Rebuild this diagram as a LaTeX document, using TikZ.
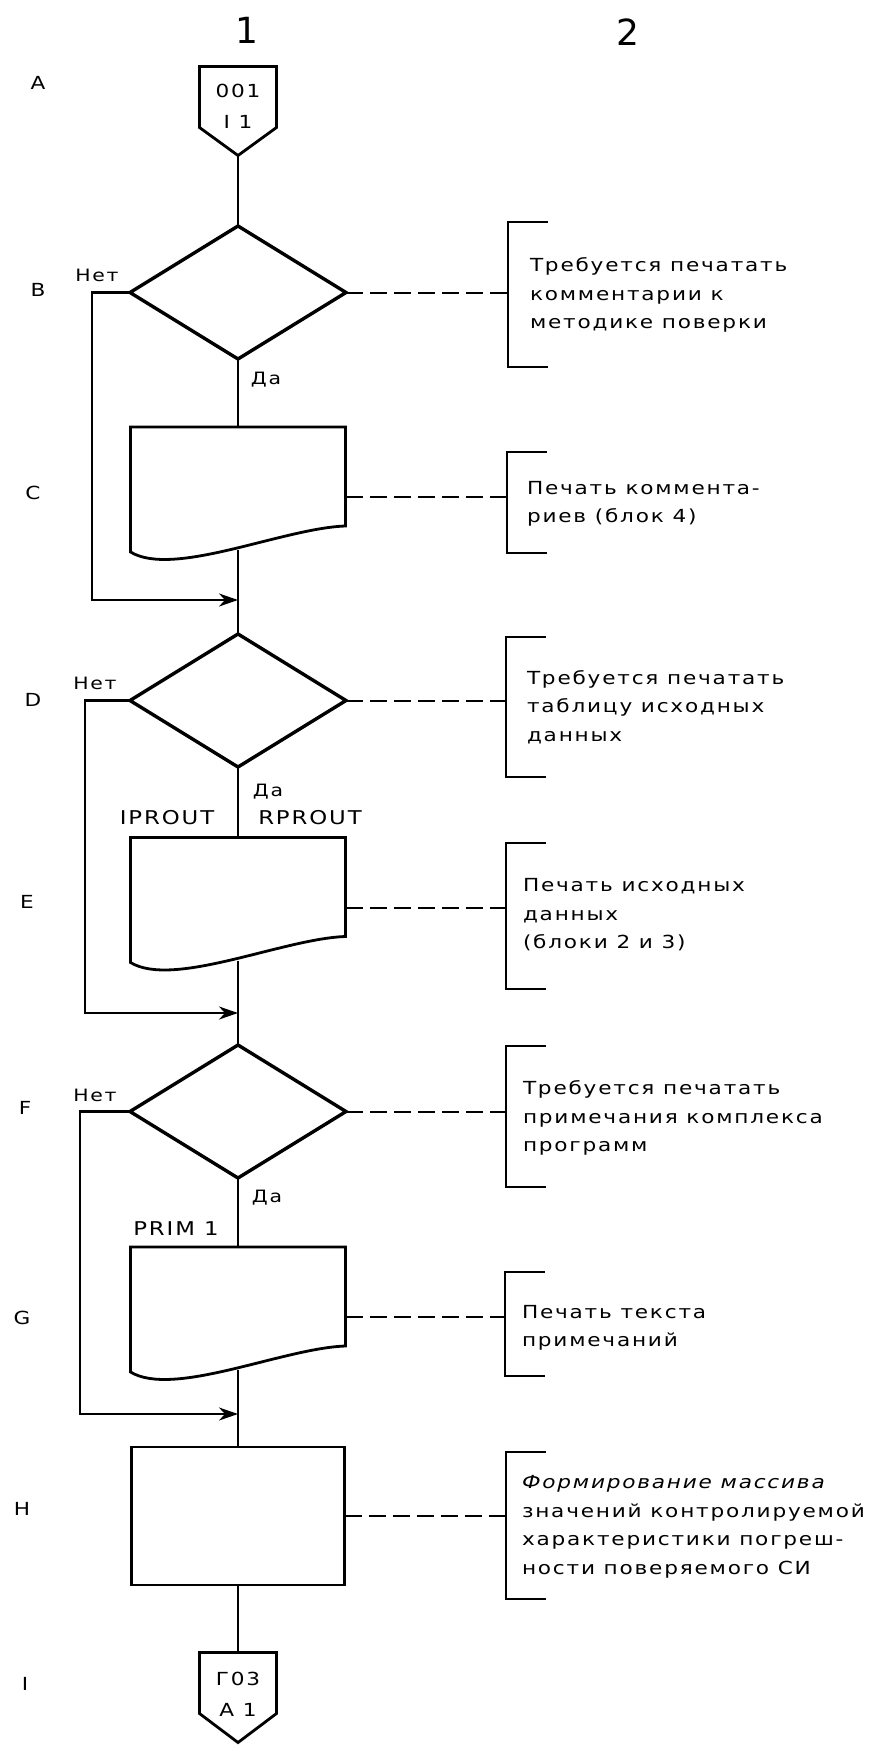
\documentclass[tikz,border=0pt]{standalone}
\usepackage{fontspec}
\setmainfont[FakeStretch=1.2,LetterSpace=10]{DejaVu Sans}
\newfontfamily\headfont{DejaVu Sans}
\usetikzlibrary{shapes.geometric,arrows.meta,calc}
\newcommand\mydoc[1]{\draw[docline] (#1.north west) -- (#1.north east) -- (#1.south east) .. controls ($(#1.south east)+(-62,2)$) and ($(#1.south west)+(43,52)$) .. ($(#1.south west)+(0,26)$) -- cycle;}
\newcommand\mycon[1]{\draw[docline] (#1.north west) -- (#1.north east) -- (#1.south east) -- (#1p) -- (#1.south west) -- cycle;}
\newcommand\mybr[4]{\coordinate (#1t) at (#2,#3); \coordinate (#1b) at (#2,#4); \draw[brline] ($(#1t)+(40,0)$) -- (#1t) -- (#1b) -- ++(40,0);}
\begin{document}
\begin{tikzpicture}[x=1pt,y=-1pt,
  every node/.style={inner sep=0pt, outer sep=0pt, font=\fontsize{18}{28.5}\selectfont},
  dia/.style={diamond, draw, line width=3.4pt, line join=miter, minimum width=216pt, minimum height=133pt, aspect=1.62},
  docbox/.style={rectangle, minimum width=215pt, minimum height=99pt},
  conbox/.style={rectangle, minimum width=77pt, minimum height=61pt},
  procbox/.style={rectangle, draw, line width=2.8pt, minimum width=213pt, minimum height=138pt},
  docline/.style={line width=2.8pt, line join=miter},
  flow/.style={line width=1.8pt},
  loopline/.style={line width=2.2pt, -{Stealth[length=19pt,width=13pt,inset=6pt]}},
  dashline/.style={line width=2pt, dash pattern=on 17pt off 7pt},
  brline/.style={line width=2.4pt},
  note/.style={anchor=west, align=left, font=\fontsize{18}{28.5}\selectfont},
  lab/.style={font=\fontsize{17}{20}\selectfont},
  caplab/.style={font=\fontsize{19}{22}\selectfont},
  rowlab/.style={font=\fontsize{18}{21}\selectfont},
  contxt/.style={align=center, font=\fontsize{18}{31}\selectfont},
  colhead/.style={font=\headfont\fontsize{36}{40}\selectfont}
]
\useasboundingbox (0,0) rectangle (879,1747);

% column headers
\node[colhead] (h1) at (247,30) {1};
\node[colhead] (h2) at (628,32) {2};

% row labels
\node[rowlab] (rA) at (38,83) {A};
\node[rowlab] (rB) at (38,290) {B};
\node[rowlab] (rC) at (33,493) {C};
\node[rowlab] (rD) at (33,700) {D};
\node[rowlab] (rE) at (27,902) {E};
\node[rowlab] (rF) at (25,1108) {F};
\node[rowlab] (rG) at (22,1318) {G};
\node[rowlab] (rH) at (22,1509) {H};
\node[rowlab] (rI) at (25,1684) {I};

% connector A
\node[conbox] (A) at (238,97) {};
\coordinate (Ap) at ($(A.south)+(0,28)$);
\mycon{A}
\node[contxt] (Atx) at (238,106) {001\\I 1};

% B
\node[dia] (B) at (238,292.5) {};
\draw[flow] (Ap) -- (B.north);
\node[lab] (netB) at (97,275) {Нет};

% C
\node[docbox] (C) at (238,476.5) {};
\mydoc{C}
\coordinate (Cb) at ($(C.south)+(0,24)$);
\coordinate (Cr) at ($(C.north east)!0.71!(C.south east)$);
\draw[flow] (B.south) -- (C.north);
\node[lab] (daB) at (266,380) {Да};

% D
\coordinate (jC) at (238,600);
\node[dia] (D) at (238,700.5) {};
\draw[flow] (Cb) -- (D.north);
\draw[loopline] (B.west) -- ++(-38,0) |- (jC);
\node[lab] (netD) at (95,683) {Нет};

% E
\node[docbox] (E) at (238,887) {};
\mydoc{E}
\coordinate (Eb) at ($(E.south)+(0,24)$);
\coordinate (Er) at ($(E.north east)!0.71!(E.south east)$);
\draw[flow] (D.south) -- (E.north);
\node[lab] (daD) at (268,792) {Да};
\node[caplab] (ipr) at (167,818) {IPROUT};
\node[caplab] (rpr) at (310,818) {RPROUT};

% F
\coordinate (jE) at (238,1013);
\node[dia] (F) at (238,1111.5) {};
\draw[flow] (Eb) -- (F.north);
\draw[loopline] (D.west) -- ++(-45,0) |- (jE);
\node[lab] (netF) at (95,1095) {Нет};

% G
\node[docbox] (G) at (238,1296.5) {};
\mydoc{G}
\coordinate (Gb) at ($(G.south)+(0,24)$);
\coordinate (Gr) at ($(G.north east)!0.71!(G.south east)$);
\draw[flow] (F.south) -- (G.north);
\node[lab] (daF) at (267,1198) {Да};
\node[caplab] (prim) at (176,1229) {PRIM 1};

% H
\coordinate (jG) at (238,1414);
\node[procbox] (H) at (238,1516) {};
\draw[flow] (Gb) -- (H.north);
\draw[loopline] (F.west) -- ++(-50,0) |- (jG);

% connector I
\node[conbox] (I) at (238,1683) {};
\coordinate (Ip) at ($(I.south)+(0,29)$);
\mycon{I}
\node[contxt] (Itx) at (238,1694) {Г03\\А 1};
\draw[flow] (H.south) -- (I.north);

% brackets and notes
\mybr{bB}{508}{222}{367}
\mybr{bC}{507}{452}{553}
\mybr{bD}{506}{637}{777}
\mybr{bE}{506}{843}{989}
\mybr{bF}{506}{1046}{1187}
\mybr{bG}{505}{1272}{1376}
\mybr{bH}{506}{1452}{1599}

\draw[dashline] (B.east) -- (B.east -| bBt);
\draw[dashline] (Cr) -- (Cr -| bCt);
\draw[dashline] (D.east) -- (D.east -| bDt);
\draw[dashline] (Er) -- (Er -| bEt);
\draw[dashline] (F.east) -- (F.east -| bFt);
\draw[dashline] (Gr) -- (Gr -| bGt);
\draw[dashline] (H.east) -- (H.east -| bHt);

\node[note] (tB) at (530,295) {Требуется печатать\\комментарии к\\методике поверки};
\node[note] (tC) at (527,504) {Печать коммента-\\риев (блок 4)};
\node[note] (tD) at (527,707) {Требуется печатать\\таблицу исходных\\данных};
\node[note] (tE) at (523,915) {Печать исходных\\данных\\(блоки 2 и 3)};
\node[note] (tF) at (523,1118) {Требуется печатать\\примечания комплекса\\программ};
\node[note] (tG) at (522,1328) {Печать текста\\примечаний};
\node[note] (tH) at (522,1527) {\textit{Формирование массива}\\значений контролируемой\\характеристики погреш-\\ности поверяемого СИ};
\end{tikzpicture}
\end{document}
